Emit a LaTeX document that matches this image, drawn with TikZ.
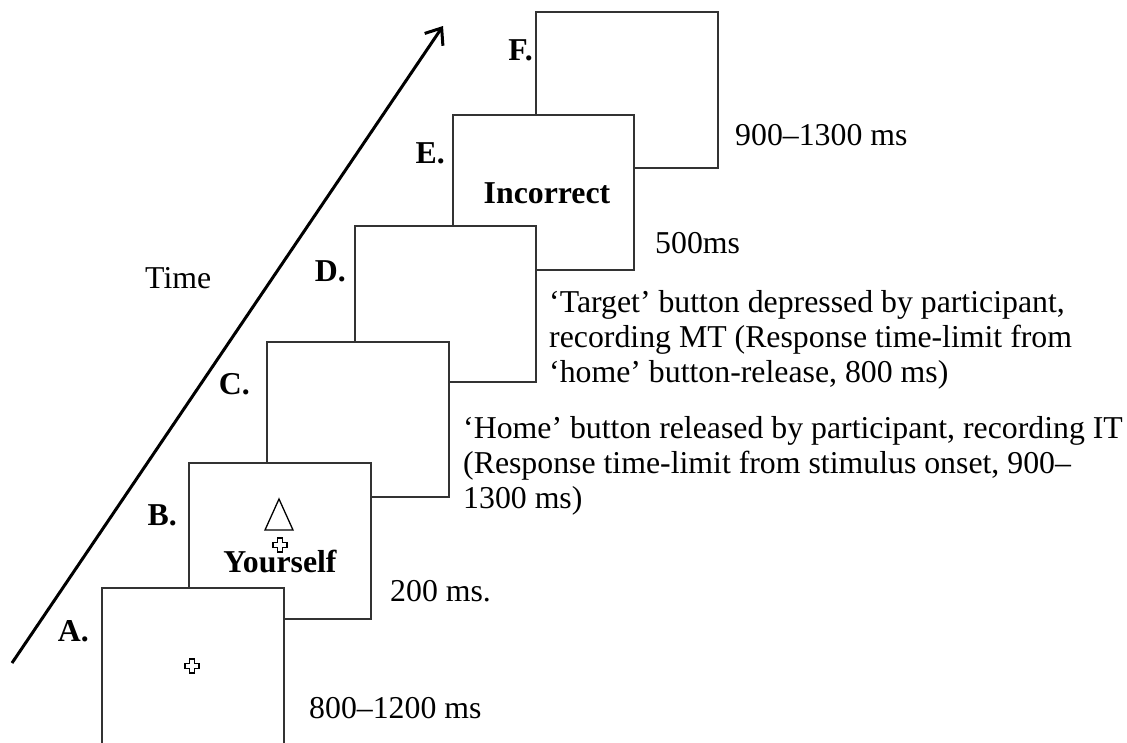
\documentclass[tikz,border=0pt]{standalone}
\usepackage{fontspec}
\setmainfont{Liberation Serif}
\usetikzlibrary{arrows.meta}
\begin{document}
\begin{tikzpicture}[x=1pt,y=-1pt,
  screen/.style={draw=black!80,line width=1.4pt,fill=white},
  txt/.style={inner sep=0pt,anchor=base west,font=\fontsize{31.8}{35}\selectfont},
  lbl/.style={inner sep=0pt,anchor=base east,font=\fontsize{31.8}{35}\selectfont\bfseries},
  fix/.style={draw=black,line width=1.1pt,fill=white}]
\path[use as bounding box] (0,0) rectangle (1127,742);
\clip (0,0) rectangle (1127,742);

% time axis
\coordinate (t0) at (12,663);
\coordinate (t1) at (443,26);
\draw[line width=3pt,-{Straight Barb[length=14pt,width=22pt]}] (t0) -- (t1);
\node[txt] (time) at (145,288) {Time};

% screens, back to front
\draw[screen] (536,12) rectangle (718,168);
\draw[screen] (453,115) rectangle (634,270);
\draw[screen] (355,226) rectangle (536,382);
\draw[screen] (267,342) rectangle (449,497);
\draw[screen] (189,463) rectangle (371,619);
\draw[screen] (102,588) rectangle (284,750);

% screen letters
\node[lbl] (lA) at (89,641) {A.};
\node[lbl] (lB) at (177,525) {B.};
\node[lbl] (lC) at (250,394) {C.};
\node[lbl] (lD) at (346,281) {D.};
\node[lbl] (lE) at (445,163) {E.};
\node[lbl] (lF) at (533,60) {F.};

% fixation crosses
\foreach \cx/\cy in {192/666, 280/545}{
  \draw[fix] (\cx-2.5,\cy-7) -- (\cx+2.5,\cy-7) -- (\cx+2.5,\cy-2.5) -- (\cx+7,\cy-2.5)
    -- (\cx+7,\cy+2.5) -- (\cx+2.5,\cy+2.5) -- (\cx+2.5,\cy+7) -- (\cx-2.5,\cy+7)
    -- (\cx-2.5,\cy+2.5) -- (\cx-7,\cy+2.5) -- (\cx-7,\cy-2.5) -- (\cx-2.5,\cy-2.5) -- cycle;
}
% target triangle
\draw[line width=1.3pt] (279,499) -- (293,530) -- (265,530) -- cycle;

\node[inner sep=0pt,anchor=base,font=\fontsize{31.8}{35}\selectfont\bfseries] (you) at (280,572) {Yourself};
\node[inner sep=0pt,anchor=base,font=\fontsize{31.8}{35}\selectfont\bfseries] (inc) at (547,203) {Incorrect};

% durations and descriptions (base anchor sits on the last line)
\node[txt] (dA) at (309,718) {800–1200 ms};
\node[txt] (dB) at (390,601) {200 ms.};
\node[txt,align=left] (dC) at (463,508) {‘Home’ button released by participant, recording IT\\(Response time-limit from stimulus onset, 900–\\1300 ms)};
\node[txt,align=left] (dD) at (549,382) {‘Target’ button depressed by participant,\\recording MT (Response time-limit from\\‘home’ button-release, 800 ms)};
\node[txt] (dE) at (655,253) {500ms};
\node[txt] (dF) at (735,145) {900–1300 ms};
\end{tikzpicture}
\end{document}
